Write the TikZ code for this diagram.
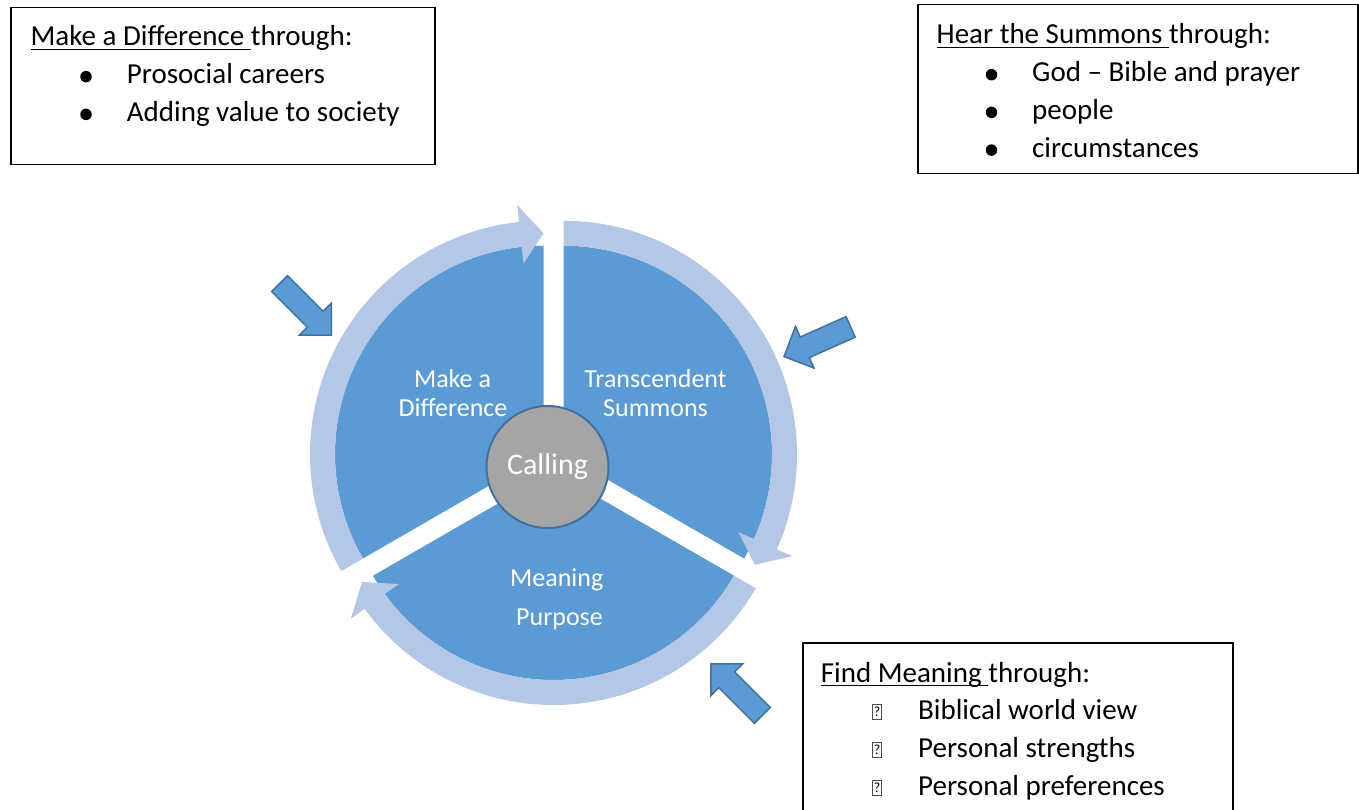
\documentclass[tikz,border=0pt]{standalone}
\usepackage{fontspec}
\setmainfont{Carlito}
\usetikzlibrary{positioning,shapes.arrows}

\definecolor{sectorblue}{HTML}{5B9BD5}
\definecolor{ringblue}{HTML}{B4C7E7}
\definecolor{rimblue}{HTML}{41719C}
\definecolor{hubgray}{HTML}{A5A5A5}

% underline that also runs under a trailing space
\newcommand\ulword[1]{\setbox0\hbox{#1}\rlap{\rule[-4.4pt]{\wd0}{1.7pt}}\box0}

% light ring segment ending in an arrow head: centre, start, head base, tip
\newcommand\ringarrow[4]{%
  \fill[ringblue, shift={(#1)}] (#2:233.5) arc[start angle=#2, end angle=#3, radius=233.5]
    -- (#3:250.5) -- (#4:221) -- (#3:191.5) -- (#3:208.5)
    arc[start angle=#3, end angle=#2, radius=208.5] -- cycle;}

\begin{document}
\begin{tikzpicture}[x=1pt, y=1pt,
    hub/.style={circle, fill=hubgray, draw=rimblue, line width=2pt, minimum size=122pt,
      inner sep=0pt, text=white, font=\fontsize{30}{30}\selectfont},
    sectortext/.style={text=white, inner sep=0pt, anchor=base, font=\fontsize{26}{29}\selectfont},
    pointer/.style={single arrow, draw=rimblue, fill=sectorblue, line width=1.5pt,
      minimum height=73pt, minimum width=44pt, single arrow head extend=11.5pt,
      single arrow head indent=0pt, inner xsep=0pt, inner ysep=10.5pt, anchor=tip},
    infobox/.style={draw, line width=1.5pt, inner sep=0pt, anchor=north west},
    boxline/.style={inner sep=0pt, text height=20pt, text depth=6pt, font=\fontsize{29}{35}\selectfont},
    bulletdot/.style={circle, fill=black, inner sep=0pt, minimum size=11.5pt},
    qmark/.style={draw=black!70, line width=0.7pt, inner sep=0pt, minimum width=9pt, minimum height=15pt,
      font=\fontsize{14}{14}\selectfont},
    node distance=11.3pt]
  \useasboundingbox (0,0) rectangle (1359,809);

  \coordinate (hubL) at (543.5,354.75);
  \coordinate (hubR) at (563.5,354.75);
  \coordinate (hubB) at (553.5,337.5);

  \fill[sectorblue] (hubL) -- ++(90:208.5) arc[start angle=90, end angle=210, radius=208.5] -- cycle;
  \fill[sectorblue] (hubR) -- ++(90:208.5) arc[start angle=90, end angle=-30, radius=208.5] -- cycle;
  \fill[sectorblue] (hubB) -- ++(210:208.5) arc[start angle=210, end angle=330, radius=208.5] -- cycle;

  \ringarrow{hubL}{210}{96}{90}
  \ringarrow{hubR}{90}{-24}{-30}
  \ringarrow{hubB}{330}{216}{210}

  \node[hub] (calling) at (547.5,342) {Calling};

  \node[sectortext] (mad1) at (452.5,421.7) {Make a};
  \node[sectortext] (mad2) at (453,392.3) {Difference};
  \node[sectortext] (ts1) at (655.5,421.7) {Transcendent};
  \node[sectortext] (ts2) at (655.5,392.3) {Summons};
  \node[sectortext] (mp1) at (556.7,222.3) {Meaning};
  \node[sectortext] (mp2) at (559.5,184) {Purpose};

  \node[pointer, rotate=-45] (ptrdiff) at (332,473) {};
  \node[pointer, rotate=204] (ptrsummons) at (783,452) {};
  \node[pointer, rotate=135] (ptrmeaning) at (710,146) {};

  \node[infobox, minimum width=424pt, minimum height=157pt] (diffbox) at (10,802) {};
  \node[boxline, anchor=base west] (difftitle) at (30.5,763) {\ulword{Make a Difference }through:};
  \node[boxline, below right=11.3pt and 96.2pt of difftitle.south west, anchor=north west] (prosocial) {Prosocial careers};
  \node[boxline, below=of prosocial.south west, anchor=north west] (adding) {Adding value to society};
  \node[bulletdot] (b1) at ([shift={(-40.7,7)}]prosocial.base west) {};
  \node[bulletdot] (b2) at ([shift={(-40.7,7)}]adding.base west) {};

  \node[infobox, minimum width=440pt, minimum height=169pt] (hearbox) at (917,805) {};
  \node[boxline, anchor=base west] (heartitle) at (936.5,765) {\ulword{Hear the Summons }through:};
  \node[boxline, below right=11.3pt and 95.5pt of heartitle.south west, anchor=north west] (god) {God -- Bible and prayer};
  \node[boxline, below=of god.south west, anchor=north west] (people) {people};
  \node[boxline, below=of people.south west, anchor=north west] (circ) {circumstances};
  \node[bulletdot] (b3) at ([shift={(-40.5,7)}]god.base west) {};
  \node[bulletdot] (b4) at ([shift={(-40.5,7)}]people.base west) {};
  \node[bulletdot] (b5) at ([shift={(-40.5,7)}]circ.base west) {};

  \node[infobox, minimum width=430pt, minimum height=172pt] (findbox) at (802,167) {};
  \node[boxline, anchor=base west] (findtitle) at (820.7,127) {\ulword{Find Meaning }through:};
  \node[boxline, below right=11.3pt and 97.3pt of findtitle.south west, anchor=north west] (biblical) {Biblical world view};
  \node[boxline, below=of biblical.south west, anchor=north west] (strengths) {Personal strengths};
  \node[boxline, below=of strengths.south west, anchor=north west] (prefs) {Personal preferences};
  \node[qmark] (q1) at ([shift={(-41,7.5)}]biblical.base west) {?};
  \node[qmark] (q2) at ([shift={(-41,7.5)}]strengths.base west) {?};
  \node[qmark] (q3) at ([shift={(-41,7.5)}]prefs.base west) {?};
\end{tikzpicture}
\end{document}
